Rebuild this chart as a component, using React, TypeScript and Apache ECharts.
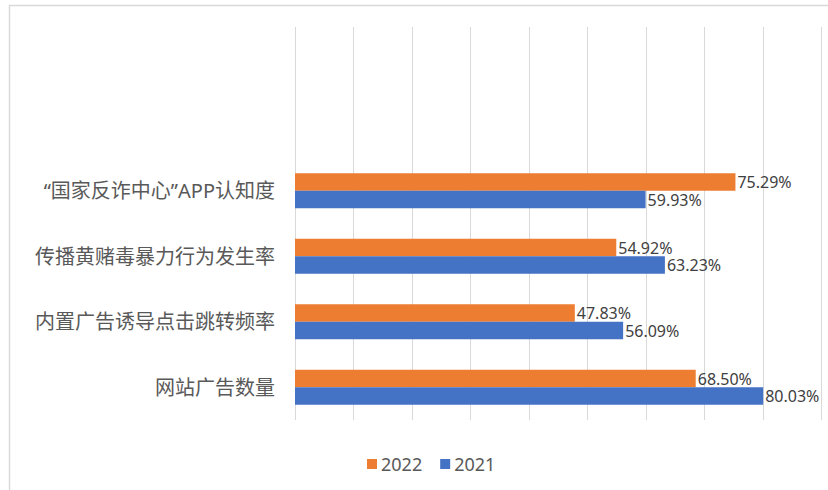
import React, { useEffect, useRef } from "react";
import * as echarts from "echarts";

const categories = ["网站广告数量", "内置广告诱导点击跳转频率", "传播黄赌毒暴力行为发生率", "“国家反诈中心”APP认知度", "", " "];
const values2022 = [68.5, 47.83, 54.92, 75.29, null, null];
const values2021 = [80.03, 56.09, 63.23, 59.93, null, null];
const seriesNames = ["2022", "2021"];
const xTicks = [0, 10, 20, 30, 40, 50, 60, 70, 80, 90];

export default function App() {
  const ref = useRef<HTMLDivElement>(null);
  useEffect(() => {
    if (!ref.current) return;
    const chart = echarts.init(ref.current, null, { renderer: "svg" });
    const labelStyle = {
      show: true,
      position: "right" as const,
      distance: 2,
      color: "#404040",
      fontSize: 16,
      fontFamily: "Noto Sans",
      formatter: (p: any) => (p.value == null ? "" : p.value.toFixed(2) + "%"),
    };
    chart.setOption({
      animation: false,
      backgroundColor: "#ffffff",
      graphic: [
        {
          type: "rect",
          shape: { x: 9.5, y: 5.5, width: 840, height: 500 },
          style: { fill: "none", stroke: "#d9d9d9", lineWidth: 1.5 },
          silent: true,
        },
      ],
      legend: {
        data: seriesNames,
        left: 362,
        top: 450,
        itemWidth: 10,
        itemHeight: 10,
        itemGap: 18,
        icon: "rect",
        textStyle: { color: "#595959", fontSize: 18, fontFamily: "Noto Sans", padding: [0, 0, 0, -1] },
      },
      grid: { left: 295, right: 6.5, top: 27, bottom: 70 },
      xAxis: {
        type: "value",
        min: xTicks[0],
        max: xTicks[xTicks.length - 1],
        interval: xTicks[1] - xTicks[0],
        axisLabel: { show: false },
        axisLine: { show: false },
        axisTick: { show: false },
        splitLine: { show: true, lineStyle: { color: "#d9d9d9", width: 1 } },
      },
      yAxis: {
        type: "category",
        data: categories,
        axisLine: { show: false },
        axisTick: { show: false },
        axisLabel: {
          margin: 20,
          color: "#595959",
          fontSize: 20,
          fontFamily: "'Noto Sans', 'Noto Sans CJK SC'",
        },
      },
      series: [
        {
          name: seriesNames[0],
          type: "bar",
          data: values2022,
          barWidth: 17.5,
          barGap: "0%",
          itemStyle: { color: "#ED7D31" },
          label: labelStyle,
        },
        {
          name: seriesNames[1],
          type: "bar",
          data: values2021,
          barWidth: 17.5,
          barGap: "0%",
          itemStyle: { color: "#4472C4" },
          label: labelStyle,
        },
      ],
    });
    return () => chart.dispose();
  }, []);
  return (
    <div
      ref={ref}
      style={{ position: "fixed", left: 0, top: 0, width: 828, height: 490, background: "#fff" }}
    />
  );
}
